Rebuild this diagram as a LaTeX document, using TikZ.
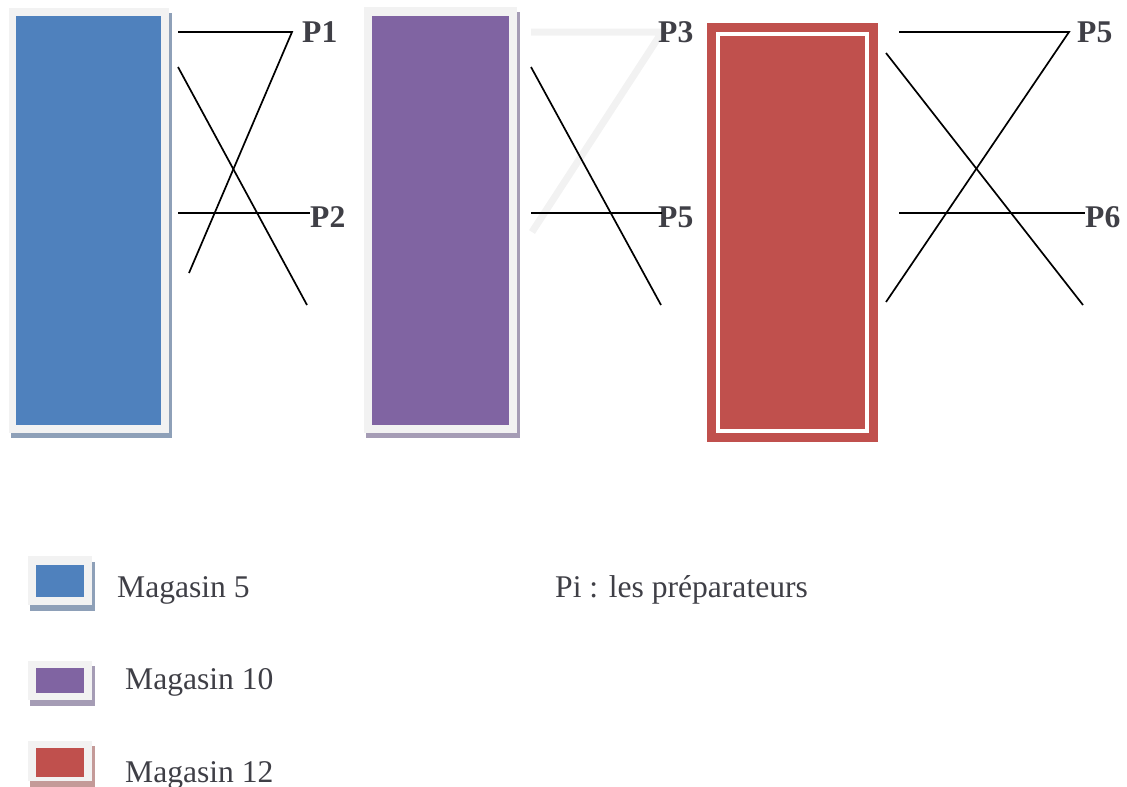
\documentclass[tikz,border=0pt]{standalone}
\usepackage{fontspec}
\setmainfont{Liberation Serif}
\definecolor{mblue}{HTML}{4F81BD}
\definecolor{mpurple}{HTML}{8064A2}
\definecolor{mred}{HTML}{C0504D}
\definecolor{frame}{HTML}{F2F2F2}
\definecolor{shblue}{HTML}{8EA0B8}
\definecolor{shpurple}{HTML}{A59CB5}
\definecolor{shred}{HTML}{C49A98}
\definecolor{txt}{HTML}{3F3F46}
\begin{document}
\begin{tikzpicture}[x=1pt,y=-1pt,
  plabel/.style={anchor=base west,inner sep=0pt,text=txt,font=\fontsize{31.6}{37}\selectfont\bfseries},
  ltext/.style={anchor=base west,inner sep=0pt,text=txt,font=\fontsize{31.6}{37}\selectfont},
  wire/.style={draw=black,line width=1.7pt},
  ghost/.style={draw=frame,line width=7pt},
  box/.style={inner sep=0pt,outer sep=0pt}]
\useasboundingbox (0,0) rectangle (1127,787);
% ---------- Magasin 5 ----------
\fill[shblue] (11,13) rectangle (172,438);
\fill[frame] (9,8) rectangle (169,433);
\node[box,fill=mblue,minimum width=145pt,minimum height=409pt] (m5) at (88.5,220.5) {};
% ---------- Magasin 10 ----------
\fill[shpurple] (366,12) rectangle (520,438);
\fill[frame] (364,7) rectangle (517,433);
\node[box,fill=mpurple,minimum width=137pt,minimum height=409pt] (m10) at (440.5,220.5) {};
% ---------- Magasin 12 ----------
\node[box,fill=mred,minimum width=171pt,minimum height=419pt] (m12) at (792.5,232.5) {};
\draw[white,line width=4pt] (718,34) rectangle (867,431);
% ---------- labels ----------
\node[plabel] (p1) at (302,42) {P1};
\node[plabel] (p2) at (310,227) {P2};
\node[plabel] (p5b) at (658,227) {P5};
\node[plabel] (p5c) at (1077,42) {P5};
\node[plabel] (p6) at (1085,227) {P6};
% ---------- lines, Magasin 5 ----------
\coordinate (a1) at (178,32); \coordinate (a2) at (292,32); \coordinate (a3) at (189,273);
\coordinate (a4) at (178,67); \coordinate (a5) at (307,305);
\coordinate (a6) at (178,213); \coordinate (a7) at (p2.west |- a6);
\draw[wire] (a1) -- (a2) -- (a3);
\draw[wire] (a4) -- (a5);
\draw[wire] (a6) -- (a7);
% ---------- lines, Magasin 10 ----------
\coordinate (b1) at (531,32); \coordinate (b2) at (662,32); \coordinate (b3) at (532,232);
\coordinate (b4) at (531,67); \coordinate (b5) at (661,305);
\coordinate (b6) at (531,213); \coordinate (b7) at (662,213);
\draw[ghost] (b1) -- (b2) -- (b3);
\node[plabel] (p3) at (658,42) {P3};
\draw[wire] (b4) -- (b5);
\draw[wire] (b6) -- (b7);
% ---------- lines, Magasin 12 ----------
\coordinate (c1) at (899,32); \coordinate (c2) at (1069,32); \coordinate (c3) at (886,302);
\coordinate (c4) at (886,53); \coordinate (c5) at (1083,305);
\coordinate (c6) at (899,213); \coordinate (c7) at (p6.west |- c6);
\draw[wire] (c1) -- (c2) -- (c3);
\draw[wire] (c4) -- (c5);
\draw[wire] (c6) -- (c7);
% ---------- legend ----------
\fill[shblue] (30,562) rectangle (95,611);
\fill[frame] (28,556) rectangle (92,605);
\node[box,fill=mblue,minimum width=48pt,minimum height=32pt] (l5) at (60,581) {};
\node[ltext] (t5) at (117,597) {Magasin 5};
\fill[shpurple] (30,666) rectangle (95,706);
\fill[frame] (28,661) rectangle (92,700);
\node[box,fill=mpurple,minimum width=48pt,minimum height=25pt] (l10) at (60,680.5) {};
\node[ltext] (t10) at (125,689) {Magasin 10};
\fill[shred] (30,746) rectangle (95,787);
\fill[frame] (28,741) rectangle (92,781);
\node[box,fill=mred,minimum width=48pt,minimum height=29pt] (l12) at (60,762.5) {};
\node[ltext] (t12) at (125,782) {Magasin 12};
\node[ltext] (pi) at (555,597) {Pi : les préparateurs};
\end{tikzpicture}
\end{document}
